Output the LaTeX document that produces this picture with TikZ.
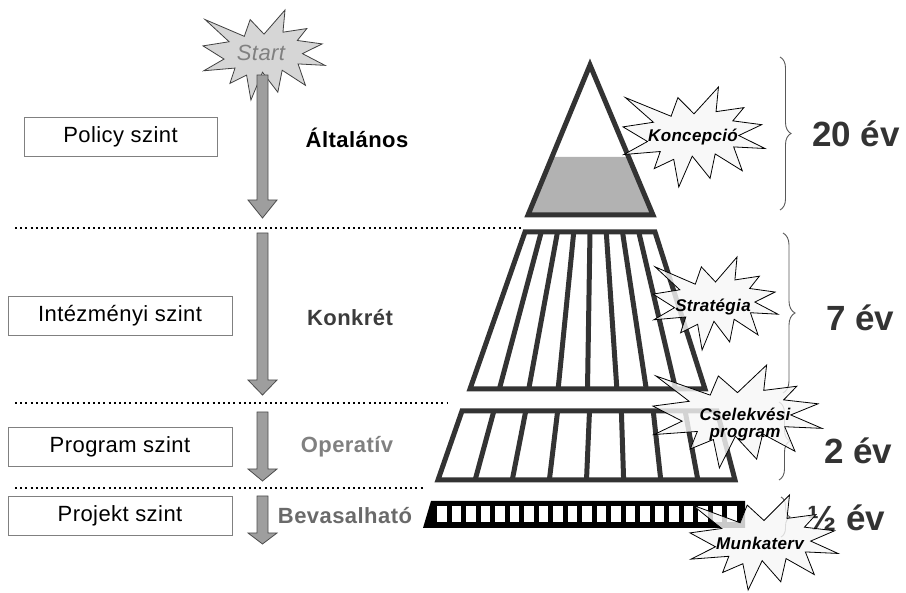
\documentclass[tikz,border=0pt]{standalone}
\usepackage{fontspec}
\setmainfont{Liberation Sans}
\usetikzlibrary{decorations.pathreplacing}
\definecolor{pyr}{HTML}{333333}
\definecolor{lvlA}{HTML}{000000}
\definecolor{lvlB}{HTML}{3C3C3C}
\definecolor{lvlC}{HTML}{808080}
\definecolor{lvlD}{HTML}{6A6A6A}
\newcommand{\burst}[5]{%
  \begin{scope}[shift={(#1,#2)},xscale=#3/216,yscale=#4/216]
  \draw[#5] (108,58) -- (145.22,0) -- (141.55,53.25) -- (183.80,44.57) -- (167.02,73.15)
   -- (210.97,81.37) -- (176.07,104.75) -- (216,132.90) -- (168.37,129.42) -- (181.45,180.95)
   -- (140.20,144.57) -- (132.47,197.37) -- (105.32,149.35) -- (84.85,216) -- (77.15,156.27)
   -- (47.62,176.17) -- (56.67,139.37) -- (1.35,145.87) -- (37.22,117.75) -- (0,86.15)
   -- (46.27,76.17) -- (3.70,22.95) -- (73.12,63.20) -- (83.52,22.95) -- cycle;
  \end{scope}}
\newcommand{\blockarr}[3]{%
  \draw[blockarrow] (257,#1) -- (268,#1) -- (268,#2) -- (277,#2) -- (262.5,#3) -- (248,#2) -- (257,#2) -- cycle;}
\begin{document}
\begin{tikzpicture}[x=1pt,y=-1pt,
  levelbox/.style={draw=black!50, line width=0.8pt, minimum height=39pt, inner sep=0pt,
    font=\fontsize{22}{26}\selectfont\addfontfeature{LetterSpace=2}},
  lvltext/.style={font=\fontsize{22}{26}\selectfont\bfseries\addfontfeature{LetterSpace=2}},
  dotline/.style={line width=2pt, dash pattern=on 2pt off 3.2pt},
  blockarrow/.style={fill=black!38, draw=black!70, line width=0.8pt},
  pyrline/.style={draw=pyr, line width=5pt, line join=miter},
  burstA/.style={fill=black!16, draw=black!75, line width=0.8pt},
  burstB/.style={fill=black!3, fill opacity=0.82, draw=black, line width=0.8pt},
  bursttext/.style={font=\fontsize{17}{19}\selectfont\bfseries\itshape\addfontfeature{LetterSpace=2}, align=center, inner sep=0pt},
  bracestyle/.style={decorate, decoration={brace, amplitude=#1}, draw=black!65, line width=0.9pt},
  yeartext/.style={font=\fontsize{35}{40}\selectfont\bfseries, text=pyr, anchor=west, inner sep=0pt}
]
\useasboundingbox (0,0) rectangle (906,593);

% dotted separators
\coordinate (d1a) at (15,228); \coordinate (d1b) at (522,228);
\coordinate (d2a) at (15,403); \coordinate (d2b) at (448,403);
\coordinate (d3a) at (15,488); \coordinate (d3b) at (423,488);
\draw[dotline] (d1a) -- (d1b);
\draw[dotline] (d2a) -- (d2b);
\draw[dotline] (d3a) -- (d3b);

% left level boxes
\node[levelbox, minimum width=193pt] (policy) at (120.5,137) {Policy szint};
\node[levelbox, minimum width=224pt] (intez) at (120,315.5) {Intézményi szint};
\node[levelbox, minimum width=224pt] (progr) at (120,446.5) {Program szint};
\node[levelbox, minimum width=224pt] (proj) at (120,515.5) {Projekt szint};

% start burst and arrows
\burst{203}{10}{122}{90}{burstA}
\node[font=\fontsize{22}{25}\selectfont\itshape\addfontfeature{LetterSpace=2}, text=lvlC, inner sep=0pt] (start) at (261,53) {Start};
\blockarr{75}{200}{218}
\blockarr{233}{380}{395}
\blockarr{412}{469}{481}
\blockarr{496}{533}{544}

% level words
\node[lvltext, text=lvlA] (altal) at (357,138) {Általános};
\node[lvltext, text=lvlB] (konk) at (350,318) {Konkrét};
\node[lvltext, text=lvlC] (oper) at (347,447) {Operatív};
\node[lvltext, text=lvlD] (bev) at (345,516) {Bevasalható};

% pyramid: triangle
\fill[black!30] (552,157) -- (628.6,157) -- (653,215) -- (528,215) -- cycle;
\draw[pyrline] (590,65) -- (653,215) -- (528,215) -- cycle;
% trapezoid 2
\draw[pyrline] (525,232) -- (655,232) -- (705,389) -- (470,389) -- cycle;
\foreach \i in {1,...,7} \draw[pyrline] ({525+\i*16.25},232) -- ({470+\i*29.375},389);
% trapezoid 3
\draw[pyrline] (462,411) -- (717,411) -- (735,480) -- (438,480) -- cycle;
\foreach \i in {1,...,7} \draw[pyrline] ({462+\i*31.875},411) -- ({438+\i*37.125},480);
% ladder bar
\fill[black] (423,528) -- (431,501) -- (745,501) -- (745,528) -- cycle;
\foreach \i in {0,...,20} \fill[white] ({437+\i*14.5},506.5) rectangle ++(9.5,15.5);

% braces
\coordinate (b1a) at (780,57);  \coordinate (b1b) at (780,210);
\coordinate (b2a) at (783,233); \coordinate (b2b) at (783,393);
\coordinate (b3a) at (779,402); \coordinate (b3b) at (779,480);
\coordinate (b4a) at (781,497); \coordinate (b4b) at (781,537);
\draw[bracestyle=11pt] (b1a) -- (b1b);
\draw[bracestyle=12pt] (b2a) -- (b2b);
\draw[bracestyle=11pt] (b3a) -- (b3b);
\draw[bracestyle=9pt] (b4a) -- (b4b);

\node[yeartext] (y20) at (812,134) {20 év};
\node[yeartext] (y7) at (826,318) {7 év};
\node[yeartext] (y2) at (824,451) {2 év};
\node[yeartext] (yh) at (807,518) {½ év};

% bursts on the pyramid
\burst{623}{87}{142}{100}{burstB}
\node[bursttext] (konc) at (693,137) {Koncepció};
\burst{653}{257}{125}{93}{burstB}
\node[bursttext] (strat) at (713,307) {Stratégia};
\burst{653}{365}{169}{103}{burstB}
\node[bursttext] (csel) at (745,425) {Cselekvési\\[-2pt]program};
\burst{690}{495}{148}{95}{burstB}
\node[bursttext] (munka) at (760,543) {Munkaterv};
\end{tikzpicture}
\end{document}
